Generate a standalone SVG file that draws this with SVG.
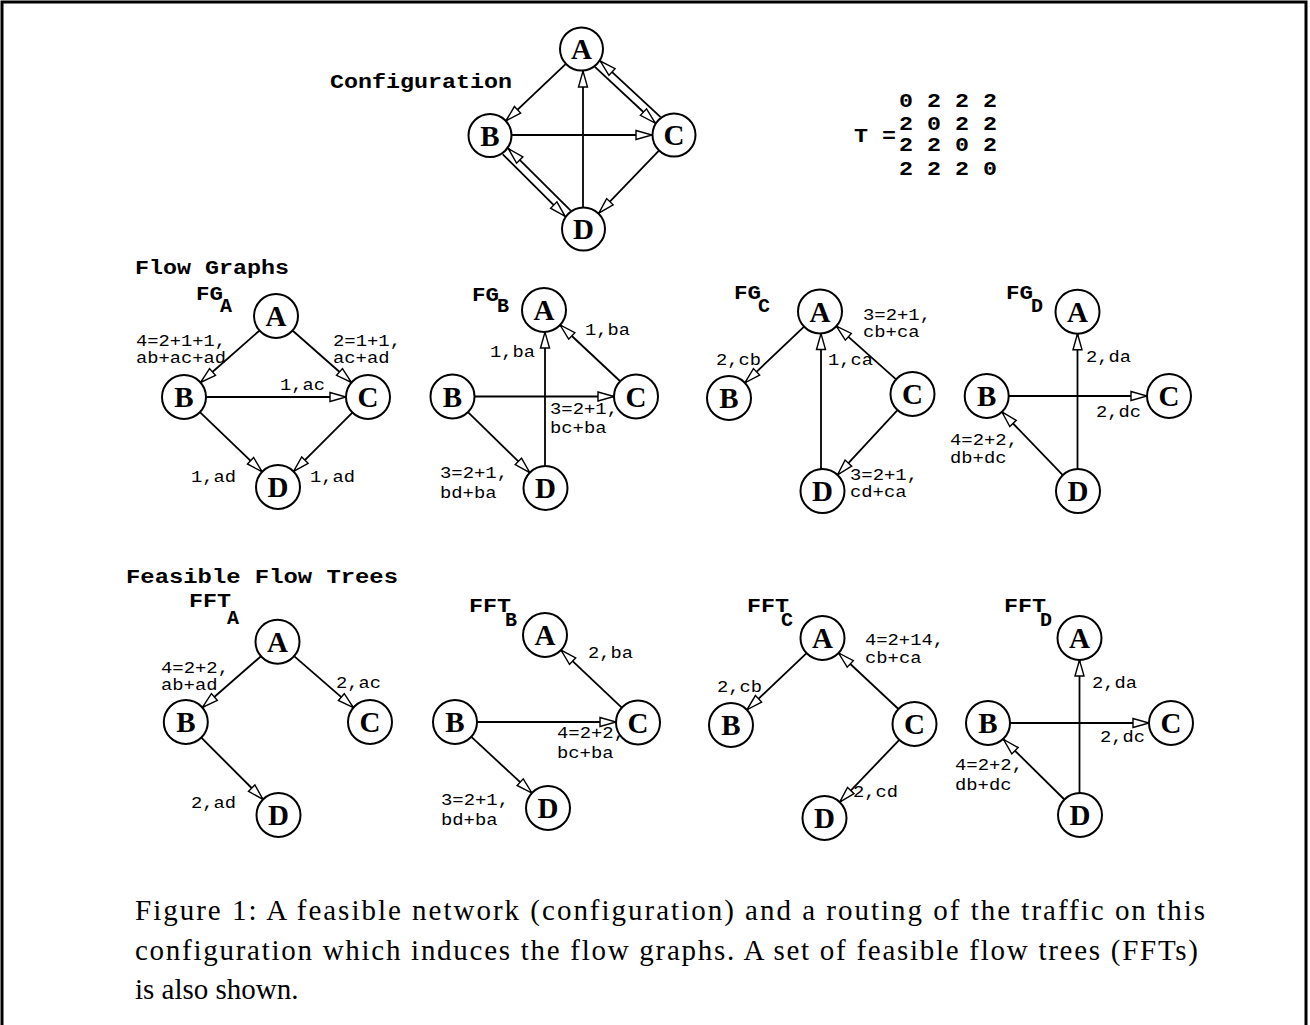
<svg xmlns="http://www.w3.org/2000/svg" width="1310" height="1025" viewBox="0 0 1310 1025">
  <style>
    .frame { fill: none; stroke: #000; stroke-width: 3; }
    .node circle { fill: #fff; stroke: #000; stroke-width: 2; }
    .node text { font-family: "Liberation Serif", "Times New Roman", serif; font-weight: bold; font-size: 29px; text-anchor: middle; }
    .edge { stroke: #000; stroke-width: 1.8; fill: none; marker-end: url(#open); }
    .lbl { font-family: "Liberation Mono", "Courier New", monospace; font-size: 16px; }
    .ttl { font-family: "Liberation Mono", "Courier New", monospace; font-weight: bold; font-size: 20px; }
    .cap { font-family: "Liberation Serif", "Times New Roman", serif; font-size: 29px; }
  </style>
  <defs>
    <marker id="open" markerUnits="userSpaceOnUse" markerWidth="20" markerHeight="12" refX="16" refY="4.5" orient="auto" overflow="visible">
      <path d="M0,0 L16,4.5 L0,9 Z" fill="#fff" stroke="#000" stroke-width="1.4" stroke-linejoin="miter"/>
    </marker>
  </defs>

  <rect class="frame" x="2" y="2" width="1304" height="1040"/>

  <!-- headings and traffic matrix -->
  <g id="headings">
    <text class="ttl" x="330" y="88" textLength="182" lengthAdjust="spacingAndGlyphs">Configuration</text>
    <text class="ttl" x="135" y="274" textLength="154" lengthAdjust="spacingAndGlyphs">Flow Graphs</text>
    <text class="ttl" x="126" y="583" textLength="272" lengthAdjust="spacingAndGlyphs">Feasible Flow Trees</text>
  </g>
  <g id="matrix-T">
    <text class="ttl" x="854" y="141.5" textLength="42" lengthAdjust="spacingAndGlyphs">T =</text>
    <text class="ttl" x="899" y="107" textLength="98" lengthAdjust="spacingAndGlyphs">0 2 2 2</text>
    <text class="ttl" x="899" y="130" textLength="98" lengthAdjust="spacingAndGlyphs">2 0 2 2</text>
    <text class="ttl" x="899" y="151" textLength="98" lengthAdjust="spacingAndGlyphs">2 2 0 2</text>
    <text class="ttl" x="899" y="174.5" textLength="98" lengthAdjust="spacingAndGlyphs">2 2 2 0</text>
  </g>

  <!-- graph titles with subscripts -->
  <g id="graph-titles">
    <text class="ttl" x="196" y="300" textLength="27" lengthAdjust="spacingAndGlyphs">FG</text><text class="ttl" x="220" y="312">A</text>
    <text class="ttl" x="472" y="301" textLength="27" lengthAdjust="spacingAndGlyphs">FG</text><text class="ttl" x="497" y="312">B</text>
    <text class="ttl" x="734" y="299" textLength="27" lengthAdjust="spacingAndGlyphs">FG</text><text class="ttl" x="758" y="312">C</text>
    <text class="ttl" x="1006" y="299" textLength="27" lengthAdjust="spacingAndGlyphs">FG</text><text class="ttl" x="1031" y="312">D</text>
    <text class="ttl" x="189" y="607" textLength="42" lengthAdjust="spacingAndGlyphs">FFT</text><text class="ttl" x="227" y="624">A</text>
    <text class="ttl" x="469" y="612" textLength="42" lengthAdjust="spacingAndGlyphs">FFT</text><text class="ttl" x="505" y="626">B</text>
    <text class="ttl" x="747" y="612" textLength="42" lengthAdjust="spacingAndGlyphs">FFT</text><text class="ttl" x="781" y="626">C</text>
    <text class="ttl" x="1004" y="612" textLength="42" lengthAdjust="spacingAndGlyphs">FFT</text><text class="ttl" x="1040" y="626">D</text>
  </g>

  <!-- connectors -->
  <g id="connectors">
    <g id="cfg-edges">
      <line class="edge" x1="565.6" y1="64.2" x2="505.9" y2="120.8"/>
      <line class="edge" x1="594.9" y1="66.9" x2="655.2" y2="123.0"/>
      <line class="edge" x1="660.6" y1="117.1" x2="600.3" y2="61.1"/>
      <line class="edge" x1="512" y1="135" x2="652" y2="135"/>
      <line class="edge" x1="583" y1="207" x2="583" y2="71"/>
      <line class="edge" x1="658.7" y1="150.9" x2="598.8" y2="213.2"/>
      <line class="edge" x1="502.8" y1="154.4" x2="565.1" y2="216.3"/>
      <line class="edge" x1="570.7" y1="210.7" x2="508.4" y2="148.7"/>
    </g>
    <g id="fga-edges">
      <line class="edge" x1="259.5" y1="330.5" x2="200.5" y2="382.5"/>
      <line class="edge" x1="292.5" y1="330.5" x2="351.5" y2="382.5"/>
      <line class="edge" x1="206" y1="397" x2="346" y2="397"/>
      <line class="edge" x1="199.9" y1="412.2" x2="262.1" y2="471.8"/>
      <line class="edge" x1="352.4" y1="412.6" x2="293.6" y2="471.4"/>
    </g>
    <g id="fgb-edges">
      <line class="edge" x1="545" y1="466" x2="545" y2="332"/>
      <line class="edge" x1="619.9" y1="381" x2="560.1" y2="325"/>
      <line class="edge" x1="474.5" y1="396.5" x2="614" y2="396.5"/>
      <line class="edge" x1="468.2" y1="412.4" x2="529.8" y2="472.6"/>
    </g>
    <g id="fgc-edges">
      <line class="edge" x1="804.1" y1="326.7" x2="744.9" y2="382.8"/>
      <line class="edge" x1="821" y1="469" x2="821" y2="333.5"/>
      <line class="edge" x1="896.1" y1="379.4" x2="836.4" y2="326.1"/>
      <line class="edge" x1="897.5" y1="410.1" x2="837.5" y2="474.9"/>
    </g>
    <g id="fgd-edges">
      <line class="edge" x1="1077.5" y1="469" x2="1077.5" y2="333.7"/>
      <line class="edge" x1="1008.7" y1="396" x2="1147" y2="396"/>
      <line class="edge" x1="1062.8" y1="475.1" x2="1001.9" y2="411.9"/>
    </g>
    <g id="ffta-edges">
      <line class="edge" x1="261" y1="656.2" x2="202.3" y2="707.5"/>
      <line class="edge" x1="294.1" y1="656.1" x2="353.4" y2="707.6"/>
      <line class="edge" x1="201.3" y1="737.6" x2="263" y2="799.4"/>
    </g>
    <g id="fftb-edges">
      <line class="edge" x1="622" y1="707.9" x2="561" y2="650.1"/>
      <line class="edge" x1="477" y1="722" x2="616" y2="722"/>
      <line class="edge" x1="471.1" y1="736.7" x2="531.9" y2="793"/>
    </g>
    <g id="fftc-edges">
      <line class="edge" x1="806.6" y1="653.2" x2="746.9" y2="709.8"/>
      <line class="edge" x1="898.4" y1="709" x2="838.6" y2="653"/>
      <line class="edge" x1="899.3" y1="739.9" x2="839.7" y2="802.1"/>
    </g>
    <g id="fftd-edges">
      <line class="edge" x1="1079.5" y1="793" x2="1079.5" y2="660"/>
      <line class="edge" x1="1010" y1="723" x2="1149" y2="723"/>
      <line class="edge" x1="1064.4" y1="799.5" x2="1003.6" y2="739.5"/>
    </g>
  </g>

  <!-- edge labels -->
  <g id="edge-labels" class="lbl">
    <text x="136" y="346" textLength="90" lengthAdjust="spacingAndGlyphs">4=2+1+1,</text>
    <text x="136" y="362.5" textLength="90" lengthAdjust="spacingAndGlyphs">ab+ac+ad</text>
    <text x="333" y="346" textLength="68" lengthAdjust="spacingAndGlyphs">2=1+1,</text>
    <text x="333" y="362.5" textLength="56.5" lengthAdjust="spacingAndGlyphs">ac+ad</text>
    <text x="280" y="390" textLength="45" lengthAdjust="spacingAndGlyphs">1,ac</text>
    <text x="191" y="481.5" textLength="45" lengthAdjust="spacingAndGlyphs">1,ad</text>
    <text x="310" y="481.5" textLength="45" lengthAdjust="spacingAndGlyphs">1,ad</text>

    <text x="585" y="335" textLength="45" lengthAdjust="spacingAndGlyphs">1,ba</text>
    <text x="490" y="357" textLength="45" lengthAdjust="spacingAndGlyphs">1,ba</text>
    <text x="550" y="414" textLength="68" lengthAdjust="spacingAndGlyphs">3=2+1,</text>
    <text x="550" y="433" textLength="56.5" lengthAdjust="spacingAndGlyphs">bc+ba</text>
    <text x="440" y="478" textLength="68" lengthAdjust="spacingAndGlyphs">3=2+1,</text>
    <text x="440" y="498" textLength="56.5" lengthAdjust="spacingAndGlyphs">bd+ba</text>

    <text x="863" y="320" textLength="68" lengthAdjust="spacingAndGlyphs">3=2+1,</text>
    <text x="863" y="337" textLength="56.5" lengthAdjust="spacingAndGlyphs">cb+ca</text>
    <text x="716" y="365" textLength="45" lengthAdjust="spacingAndGlyphs">2,cb</text>
    <text x="828" y="365" textLength="45" lengthAdjust="spacingAndGlyphs">1,ca</text>
    <text x="850" y="480" textLength="68" lengthAdjust="spacingAndGlyphs">3=2+1,</text>
    <text x="850" y="497" textLength="56.5" lengthAdjust="spacingAndGlyphs">cd+ca</text>

    <text x="1086" y="361.5" textLength="45" lengthAdjust="spacingAndGlyphs">2,da</text>
    <text x="1096" y="416.5" textLength="45" lengthAdjust="spacingAndGlyphs">2,dc</text>
    <text x="950" y="445" textLength="68" lengthAdjust="spacingAndGlyphs">4=2+2,</text>
    <text x="950" y="463" textLength="56.5" lengthAdjust="spacingAndGlyphs">db+dc</text>

    <text x="161" y="673" textLength="68" lengthAdjust="spacingAndGlyphs">4=2+2,</text>
    <text x="161" y="690" textLength="56.5" lengthAdjust="spacingAndGlyphs">ab+ad</text>
    <text x="336" y="688" textLength="45" lengthAdjust="spacingAndGlyphs">2,ac</text>
    <text x="191" y="808" textLength="45" lengthAdjust="spacingAndGlyphs">2,ad</text>

    <text x="588" y="658" textLength="45" lengthAdjust="spacingAndGlyphs">2,ba</text>
    <text x="557" y="738" textLength="68" lengthAdjust="spacingAndGlyphs">4=2+2,</text>
    <text x="557" y="758" textLength="56.5" lengthAdjust="spacingAndGlyphs">bc+ba</text>
    <text x="441" y="805" textLength="68" lengthAdjust="spacingAndGlyphs">3=2+1,</text>
    <text x="441" y="825" textLength="56.5" lengthAdjust="spacingAndGlyphs">bd+ba</text>

    <text x="865" y="645" textLength="79" lengthAdjust="spacingAndGlyphs">4=2+14,</text>
    <text x="865" y="663" textLength="56.5" lengthAdjust="spacingAndGlyphs">cb+ca</text>
    <text x="717" y="692" textLength="45" lengthAdjust="spacingAndGlyphs">2,cb</text>
    <text x="853" y="797" textLength="45" lengthAdjust="spacingAndGlyphs">2,cd</text>

    <text x="1092" y="688" textLength="45" lengthAdjust="spacingAndGlyphs">2,da</text>
    <text x="1100" y="742" textLength="45" lengthAdjust="spacingAndGlyphs">2,dc</text>
    <text x="955" y="770" textLength="68" lengthAdjust="spacingAndGlyphs">4=2+2,</text>
    <text x="955" y="790" textLength="56.5" lengthAdjust="spacingAndGlyphs">db+dc</text>
  </g>

  <!-- configuration nodes -->
  <g id="cfg-A" class="node"><circle cx="581.5" cy="49" r="21.5"/><text x="581.5" y="59">A</text></g>
  <g id="cfg-B" class="node"><circle cx="490" cy="135.5" r="21.5"/><text x="490" y="145.5">B</text></g>
  <g id="cfg-C" class="node"><circle cx="674" cy="135" r="21.5"/><text x="674" y="145">C</text></g>
  <g id="cfg-D" class="node"><circle cx="583.5" cy="229" r="21.5"/><text x="583.5" y="239">D</text></g>

  <!-- flow graph FG_A -->
  <g id="fga-A" class="node"><circle cx="276" cy="316" r="22"/><text x="276" y="326">A</text></g>
  <g id="fga-B" class="node"><circle cx="184" cy="397" r="22"/><text x="184" y="407">B</text></g>
  <g id="fga-C" class="node"><circle cx="368" cy="397" r="22"/><text x="368" y="407">C</text></g>
  <g id="fga-D" class="node"><circle cx="278" cy="487" r="22"/><text x="278" y="497">D</text></g>

  <!-- flow graph FG_B -->
  <g id="fgb-A" class="node"><circle cx="544" cy="310" r="22"/><text x="544" y="320">A</text></g>
  <g id="fgb-B" class="node"><circle cx="452.5" cy="396.5" r="22"/><text x="452.5" y="406.5">B</text></g>
  <g id="fgb-C" class="node"><circle cx="636" cy="396.5" r="22"/><text x="636" y="406.5">C</text></g>
  <g id="fgb-D" class="node"><circle cx="545.5" cy="488" r="22"/><text x="545.5" y="498">D</text></g>

  <!-- flow graph FG_C -->
  <g id="fgc-A" class="node"><circle cx="820" cy="311.5" r="22"/><text x="820" y="321.5">A</text></g>
  <g id="fgc-B" class="node"><circle cx="729" cy="398" r="22"/><text x="729" y="408">B</text></g>
  <g id="fgc-C" class="node"><circle cx="912.5" cy="394" r="22"/><text x="912.5" y="404">C</text></g>
  <g id="fgc-D" class="node"><circle cx="822.5" cy="491" r="22"/><text x="822.5" y="501">D</text></g>

  <!-- flow graph FG_D -->
  <g id="fgd-A" class="node"><circle cx="1077.5" cy="311.7" r="22"/><text x="1077.5" y="321.7">A</text></g>
  <g id="fgd-B" class="node"><circle cx="986.7" cy="396" r="22"/><text x="986.7" y="406">B</text></g>
  <g id="fgd-C" class="node"><circle cx="1169" cy="396" r="22"/><text x="1169" y="406">C</text></g>
  <g id="fgd-D" class="node"><circle cx="1078" cy="491" r="22"/><text x="1078" y="501">D</text></g>

  <!-- feasible flow tree FFT_A -->
  <g id="ffta-A" class="node"><circle cx="277.5" cy="641.7" r="22"/><text x="277.5" y="651.7">A</text></g>
  <g id="ffta-B" class="node"><circle cx="185.8" cy="722" r="22"/><text x="185.8" y="732">B</text></g>
  <g id="ffta-C" class="node"><circle cx="370" cy="722" r="22"/><text x="370" y="732">C</text></g>
  <g id="ffta-D" class="node"><circle cx="278.5" cy="815" r="22"/><text x="278.5" y="825">D</text></g>

  <!-- feasible flow tree FFT_B -->
  <g id="fftb-A" class="node"><circle cx="545" cy="635" r="22"/><text x="545" y="645">A</text></g>
  <g id="fftb-B" class="node"><circle cx="455" cy="722" r="22"/><text x="455" y="732">B</text></g>
  <g id="fftb-C" class="node"><circle cx="638" cy="722.5" r="22"/><text x="638" y="732.5">C</text></g>
  <g id="fftb-D" class="node"><circle cx="548" cy="808" r="22"/><text x="548" y="818">D</text></g>

  <!-- feasible flow tree FFT_C -->
  <g id="fftc-A" class="node"><circle cx="822.5" cy="638" r="22"/><text x="822.5" y="648">A</text></g>
  <g id="fftc-B" class="node"><circle cx="731" cy="725" r="22"/><text x="731" y="735">B</text></g>
  <g id="fftc-C" class="node"><circle cx="914.5" cy="724" r="22"/><text x="914.5" y="734">C</text></g>
  <g id="fftc-D" class="node"><circle cx="824.5" cy="818" r="22"/><text x="824.5" y="828">D</text></g>

  <!-- feasible flow tree FFT_D -->
  <g id="fftd-A" class="node"><circle cx="1079.5" cy="638" r="22"/><text x="1079.5" y="648">A</text></g>
  <g id="fftd-B" class="node"><circle cx="988" cy="723" r="22"/><text x="988" y="733">B</text></g>
  <g id="fftd-C" class="node"><circle cx="1171" cy="723" r="22"/><text x="1171" y="733">C</text></g>
  <g id="fftd-D" class="node"><circle cx="1080" cy="815" r="22"/><text x="1080" y="825">D</text></g>

  <!-- caption -->
  <g id="caption" class="cap">
    <text x="135" y="920" textLength="1070" lengthAdjust="spacing">Figure 1: A feasible network (configuration) and a routing of the traffic on this</text>
    <text x="135" y="960" textLength="1063" lengthAdjust="spacing">configuration which induces the flow graphs. A set of feasible flow trees (FFTs)</text>
    <text x="135" y="999">is also shown.</text>
  </g>
</svg>
